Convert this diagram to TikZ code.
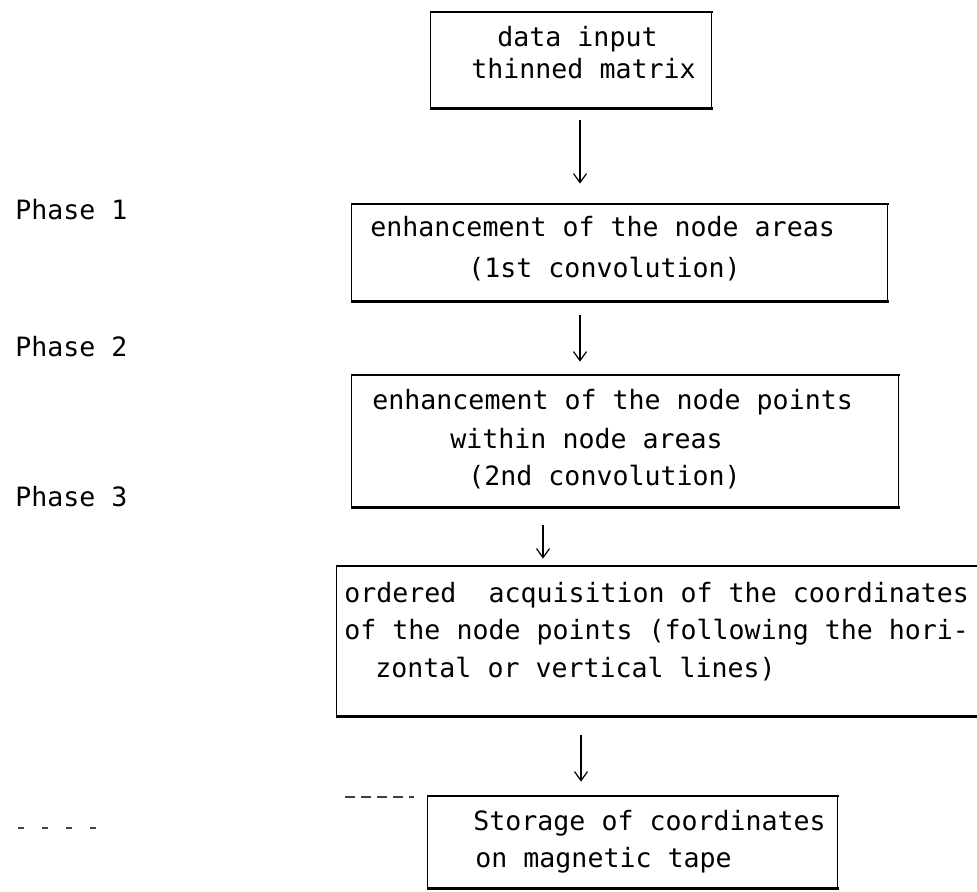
\documentclass[tikz,border=0pt]{standalone}
\usepackage{fontspec}
\setmonofont{DejaVu Sans Mono}
\usetikzlibrary{arrows.meta}
\tikzset{
  box/.style={inner sep=0pt, rectangle},
  hline/.style={line width=1.1pt, line cap=rect},
  vline/.style={line width=0.7pt, line cap=rect},
  txt/.style={anchor=mid west, inner sep=0pt, font=\ttfamily\fontsize{13.3}{16}\selectfont},
  arr/.style={line width=0.75pt, -{Straight Barb[length=4.5pt,width=6.5pt,line width=0.6pt]}},
  stray/.style={line width=0.6pt, black!75}
}
\begin{document}
\begin{tikzpicture}[x=0.5pt, y=-0.5pt]
\fill[white] (0,0) rectangle (977,891);
\useasboundingbox (0,0) rectangle (977,891);

% boxes
\node[box, minimum width=140pt, minimum height=48pt] (b1) at (571,60) {};
\node[box, minimum width=267.5pt, minimum height=48.5pt] (b2) at (619.5,252.5) {};
\node[box, minimum width=273pt, minimum height=66pt] (b3) at (625,441) {};
\node[box, minimum width=322.5pt, minimum height=75pt] (b4) at (659.5,641) {};
\node[box, minimum width=204.5pt, minimum height=46pt] (b5) at (632.5,842) {};
\foreach \b in {b1,b2,b3,b4,b5} {
  \draw[hline] (\b.north west) -- (\b.north east) (\b.south west) -- (\b.south east);
  \draw[vline] (\b.north west) -- (\b.south west) (\b.north east) -- (\b.south east);
}

% texts
\node[txt] (t1a) at (497,42) {data input};
\node[txt] (t1b) at (471,74) {thinned matrix};
\node[txt] (t2a) at (370,232) {enhancement of the node areas};
\node[txt] (t2b) at (468,273) {(1st convolution)};
\node[txt] (t3a) at (372,405) {enhancement of the node points};
\node[txt] (t3b) at (450,444) {within node areas};
\node[txt] (t3c) at (468,481) {(2nd convolution)};
\node[txt] (t4a) at (344,598) {ordered\ \ acquisition of the coordinates};
\node[txt] (t4b) at (344,635) {of the node points (following the hori-};
\node[txt] (t4c) at (375,673) {zontal or vertical lines)};
\node[txt] (t5a) at (473,826) {Storage of coordinates};
\node[txt] (t5b) at (475,863) {on magnetic tape};

% phases
\node[txt] (p1) at (15,215) {Phase 1};
\node[txt] (p2) at (15,352) {Phase 2};
\node[txt] (p3) at (15,502) {Phase 3};

% arrow x positions
\coordinate (a1) at (580,0);
\coordinate (a2) at (580,0);
\coordinate (a3) at (543,0);
\coordinate (a4) at (581,0);

\draw[arr, shorten <=6pt, shorten >=10pt] (b1.south -| a1) -- (b2.north -| a1);
\draw[arr, shorten <=7pt, shorten >=6.5pt] (b2.south -| a2) -- (b3.north -| a2);
\draw[arr, shorten <=9pt, shorten >=3.5pt] (b3.south -| a3) -- (b4.north -| a3);
\draw[arr, shorten <=9.5pt, shorten >=7pt] (b4.south -| a4) -- (b5.north -| a4);

% stray scan marks
\coordinate (s1) at (345,797);
\coordinate (s2) at (414,797);
\draw[stray, dash pattern=on 5pt off 3pt] (s1) -- (s2);
\coordinate (s3) at (18,828);
\coordinate (s4) at (110,828);
\draw[stray, dash pattern=on 3pt off 9pt] (s3) -- (s4);
\end{tikzpicture}
\end{document}
